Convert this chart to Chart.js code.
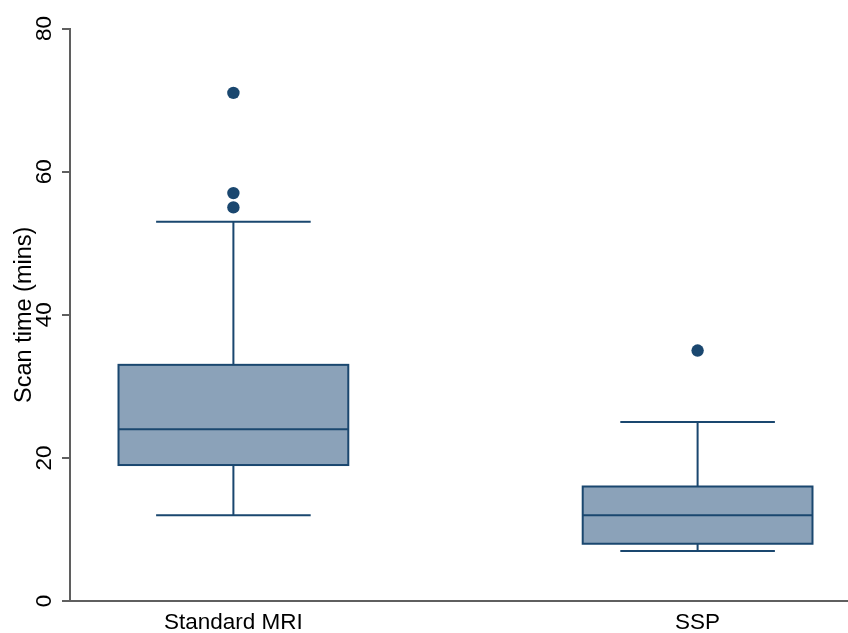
<!DOCTYPE html>
<html>
<head>
<meta charset="utf-8">
<script src="https://cdn.jsdelivr.net/npm/chart.js@4.4.1/dist/chart.umd.min.js"></script>
<style>
  html, body { margin: 0; padding: 0; background: #ffffff; }
  #wrap { width: 848px; height: 633px; }
</style>
</head>
<body>
<div id="wrap"><canvas id="c"></canvas></div>
<script>
// Scan time (minutes) by protocol
const categories = ['Standard MRI', 'SSP'];
const whiskerLow  = [12, 7];
const q1          = [19, 8];
const median      = [24, 12];
const q3          = [33, 16];
const whiskerHigh = [53, 25];
const outliers    = [[71, 57, 55], [35]];
const yTicks      = [0, 20, 40, 60, 80];

const NAVY = '#1a476f';
const FILL = '#8ba2b9';
const AXIS = '#5f5f5f';
const FONT = 'Liberation Sans, Arial, sans-serif';
const BOX_W = 0.495;   // box width in x units
const CAP_W = 0.333;   // whisker cap width in x units

const outlierPoints = [];
outliers.forEach((vals, i) => vals.forEach(v => outlierPoints.push({ x: i + 1, y: v })));

const boxPlugin = {
  id: 'boxes',
  beforeDatasetsDraw(chart) {
    const { ctx, scales: { x, y } } = chart;
    ctx.save();
    ctx.strokeStyle = NAVY;
    ctx.lineWidth = 2;
    categories.forEach((_, i) => {
      const cx = x.getPixelForValue(i + 1);
      const bl = x.getPixelForValue(i + 1 - BOX_W / 2);
      const br = x.getPixelForValue(i + 1 + BOX_W / 2);
      const cl = x.getPixelForValue(i + 1 - CAP_W / 2);
      const cr = x.getPixelForValue(i + 1 + CAP_W / 2);
      const yLo = y.getPixelForValue(whiskerLow[i]);
      const yQ1 = y.getPixelForValue(q1[i]);
      const yMd = y.getPixelForValue(median[i]);
      const yQ3 = y.getPixelForValue(q3[i]);
      const yHi = y.getPixelForValue(whiskerHigh[i]);
      // whiskers and caps
      ctx.beginPath();
      ctx.moveTo(cx, yQ3); ctx.lineTo(cx, yHi);
      ctx.moveTo(cx, yQ1); ctx.lineTo(cx, yLo);
      ctx.moveTo(cl, yHi); ctx.lineTo(cr, yHi);
      ctx.moveTo(cl, yLo); ctx.lineTo(cr, yLo);
      ctx.stroke();
      // box
      ctx.fillStyle = FILL;
      ctx.fillRect(bl, yQ3, br - bl, yQ1 - yQ3);
      ctx.strokeRect(bl, yQ3, br - bl, yQ1 - yQ3);
      // median
      ctx.beginPath();
      ctx.moveTo(bl, yMd); ctx.lineTo(br, yMd);
      ctx.stroke();
    });
    ctx.restore();
  }
};

// vertical tick labels on the y axis, reading bottom to top
const yLabelPlugin = {
  id: 'yLabels',
  afterDraw(chart) {
    const { ctx, scales: { y } } = chart;
    ctx.save();
    ctx.fillStyle = '#000';
    ctx.font = '22.5px ' + FONT;
    ctx.textAlign = 'center';
    ctx.textBaseline = 'middle';
    yTicks.forEach(v => {
      const py = y.getPixelForValue(v);
      ctx.save();
      ctx.translate(44.5, py);
      ctx.rotate(-Math.PI / 2);
      ctx.fillText(String(v), 0, 0);
      ctx.restore();
    });
    ctx.restore();
  }
};

new Chart(document.getElementById('c'), {
  type: 'scatter',
  data: {
    datasets: [{
      label: 'Outliers',
      data: outlierPoints,
      pointRadius: 6.2,
      pointHoverRadius: 6.2,
      pointBackgroundColor: NAVY,
      pointBorderColor: NAVY,
      pointBorderWidth: 0
    }]
  },
  options: {
    responsive: true,
    maintainAspectRatio: false,
    animation: false,
    events: [],
    layout: { autoPadding: false, padding: { top: 28.5, right: 0, left: 0, bottom: 0 } },
    plugins: { legend: { display: false }, tooltip: { enabled: false } },
    scales: {
      x: {
        type: 'linear',
        min: 0.648,
        max: 2.324,
        afterBuildTicks(scale) { scale.ticks = categories.map((_, i) => ({ value: i + 1 })); },
        afterFit(scale) { scale.height = 32; scale.paddingLeft = 0; scale.paddingRight = 0; },
        ticks: {
          callback: (v) => categories[v - 1],
          color: '#000',
          font: { family: FONT, size: 22.5 },
          padding: 8,
          maxRotation: 0,
          minRotation: 0
        },
        grid: { display: true, drawOnChartArea: false, drawTicks: false, color: AXIS },
        border: { display: true, color: AXIS, width: 2 }
      },
      y: {
        min: 0,
        max: 80,
        afterBuildTicks(scale) { scale.ticks = yTicks.map(v => ({ value: v })); },
        afterFit(scale) { scale.width = 70; scale.paddingTop = 0; scale.paddingBottom = 0; },
        ticks: { display: false },
        title: {
          display: true,
          text: 'Scan time (mins)',
          color: '#000',
          font: { family: FONT, size: 23.5 },
          padding: { top: 10, bottom: 0 }
        },
        grid: { display: true, drawOnChartArea: false, tickLength: 8, color: AXIS, lineWidth: 2 },
        border: { display: true, color: AXIS, width: 2 }
      }
    }
  },
  plugins: [boxPlugin, yLabelPlugin]
});
</script>
</body>
</html>
